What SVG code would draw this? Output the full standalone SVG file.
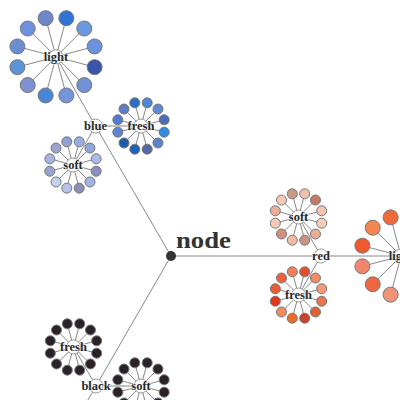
<svg xmlns="http://www.w3.org/2000/svg" width="400" height="400" viewBox="0 0 400 400">
<style>
.e{stroke:#888;stroke-width:1;fill:none}
.lf{stroke:#777;stroke-width:1}
.lg circle{r:7.5}
.sm circle{r:5}
.hub{fill:#fff;stroke:#999;stroke-width:1}
.lbl{font-family:"Liberation Serif","DejaVu Serif",serif;font-weight:bold;font-size:12.5px;fill:#2a2a2a;text-anchor:middle;stroke:#fff;stroke-width:1.5;stroke-opacity:0.6;paint-order:stroke}
.blk circle{fill:#2b2229}
</style>
<defs>
<g id="s40" class="e">
<line x1="0" y1="0" x2="-10.35" y2="-38.64"/><line x1="0" y1="0" x2="10.35" y2="-38.64"/>
<line x1="0" y1="0" x2="28.28" y2="-28.28"/><line x1="0" y1="0" x2="38.64" y2="-10.35"/>
<line x1="0" y1="0" x2="38.64" y2="10.35"/><line x1="0" y1="0" x2="28.28" y2="28.28"/>
<line x1="0" y1="0" x2="10.35" y2="38.64"/><line x1="0" y1="0" x2="-10.35" y2="38.64"/>
<line x1="0" y1="0" x2="-28.28" y2="28.28"/><line x1="0" y1="0" x2="-38.64" y2="10.35"/>
<line x1="0" y1="0" x2="-38.64" y2="-10.35"/><line x1="0" y1="0" x2="-28.28" y2="-28.28"/>
</g>
<g id="s24" class="e">
<line x1="0" y1="0" x2="-6.21" y2="-23.18"/><line x1="0" y1="0" x2="6.21" y2="-23.18"/>
<line x1="0" y1="0" x2="16.97" y2="-16.97"/><line x1="0" y1="0" x2="23.18" y2="-6.21"/>
<line x1="0" y1="0" x2="23.18" y2="6.21"/><line x1="0" y1="0" x2="16.97" y2="16.97"/>
<line x1="0" y1="0" x2="6.21" y2="23.18"/><line x1="0" y1="0" x2="-6.21" y2="23.18"/>
<line x1="0" y1="0" x2="-16.97" y2="16.97"/><line x1="0" y1="0" x2="-23.18" y2="6.21"/>
<line x1="0" y1="0" x2="-23.18" y2="-6.21"/><line x1="0" y1="0" x2="-16.97" y2="-16.97"/>
</g>
</defs>
<g id="connectors" class="e">
<line x1="171" y1="256" x2="95.5" y2="126"/>
<line x1="95.5" y1="126" x2="56" y2="56.8"/>
<line x1="171" y1="256" x2="321" y2="256"/>
<line x1="321" y1="256" x2="401" y2="256"/>
<line x1="171" y1="256" x2="96" y2="386"/>
<line x1="96" y1="386" x2="56" y2="455"/>
<line x1="95.5" y1="126" x2="141" y2="126"/>
<line x1="95.5" y1="126" x2="73" y2="165"/>
<line x1="321" y1="256" x2="298.5" y2="217"/>
<line x1="321" y1="256" x2="298.5" y2="295"/>
<line x1="96" y1="386" x2="73.5" y2="347"/>
<line x1="96" y1="386" x2="141" y2="386"/>
<use href="#s40" x="56" y="56.8"/>
<use href="#s24" x="141" y="126"/>
<use href="#s24" x="73" y="165"/>
<use href="#s24" x="298.5" y="217"/>
<use href="#s24" x="298.5" y="295"/>
<use href="#s24" x="73.5" y="347"/>
<use href="#s24" x="141" y="386"/>
<line x1="401" y1="256" x2="390.65" y2="217.36"/>
<line x1="401" y1="256" x2="372.72" y2="227.72"/>
<line x1="401" y1="256" x2="362.36" y2="245.65"/>
<line x1="401" y1="256" x2="362.36" y2="266.35"/>
<line x1="401" y1="256" x2="372.72" y2="284.28"/>
<line x1="401" y1="256" x2="390.65" y2="294.64"/>
</g>
<g id="blue-light" transform="translate(56,56.8)">
<g class="lf lg">
<circle cx="-10.35" cy="-38.64" fill="#6f86c9"/><circle cx="10.35" cy="-38.64" fill="#2f74d6"/>
<circle cx="28.28" cy="-28.28" fill="#6a9ae0"/><circle cx="38.64" cy="-10.35" fill="#6b93dd"/>
<circle cx="38.64" cy="10.35" fill="#3a55a8"/><circle cx="28.28" cy="28.28" fill="#7392d6"/>
<circle cx="10.35" cy="38.64" fill="#7496d8"/><circle cx="-10.35" cy="38.64" fill="#4a86d8"/>
<circle cx="-28.28" cy="28.28" fill="#7e91d0"/><circle cx="-38.64" cy="10.35" fill="#5f93d9"/>
<circle cx="-38.64" cy="-10.35" fill="#6c8dd0"/><circle cx="-28.28" cy="-28.28" fill="#6f90dd"/>
</g>
<circle class="hub" r="7"/><text class="lbl" y="4">light</text>
</g>
<g id="blue-fresh" transform="translate(141,126)">
<g class="lf sm">
<circle cx="-6.21" cy="-23.18" fill="#2b6fc4"/><circle cx="6.21" cy="-23.18" fill="#4d86d4"/>
<circle cx="16.97" cy="-16.97" fill="#5c8ad1"/><circle cx="23.18" cy="-6.21" fill="#4a6bb5"/>
<circle cx="23.18" cy="6.21" fill="#2f8ae0"/><circle cx="16.97" cy="16.97" fill="#5a82d0"/>
<circle cx="6.21" cy="23.18" fill="#5566a6"/><circle cx="-6.21" cy="23.18" fill="#1f63b8"/>
<circle cx="-16.97" cy="16.97" fill="#1d5aa8"/><circle cx="-23.18" cy="6.21" fill="#5b83d2"/>
<circle cx="-23.18" cy="-6.21" fill="#4f7ad8"/><circle cx="-16.97" cy="-16.97" fill="#5c7cc4"/>
</g>
<circle class="hub" r="7"/><text class="lbl" y="4">fresh</text>
</g>
<g id="blue-soft" transform="translate(73,165)">
<g class="lf sm">
<circle cx="-6.21" cy="-23.18" fill="#8ea3d3"/><circle cx="6.21" cy="-23.18" fill="#95aee0"/>
<circle cx="16.97" cy="-16.97" fill="#8fa8da"/><circle cx="23.18" cy="-6.21" fill="#aabbe8"/>
<circle cx="23.18" cy="6.21" fill="#8a8fbd"/><circle cx="16.97" cy="16.97" fill="#a0b4e6"/>
<circle cx="6.21" cy="23.18" fill="#8b8db5"/><circle cx="-6.21" cy="23.18" fill="#b4c2ea"/>
<circle cx="-16.97" cy="16.97" fill="#c2d3f0"/><circle cx="-23.18" cy="6.21" fill="#97a4d3"/>
<circle cx="-23.18" cy="-6.21" fill="#a5b4e0"/><circle cx="-16.97" cy="-16.97" fill="#9aa5cf"/>
</g>
<circle class="hub" r="7"/><text class="lbl" y="4">soft</text>
</g>
<g id="blue" transform="translate(95.5,126)">
<circle class="hub" r="7"/><text class="lbl" y="4">blue</text>
</g>
<g id="red-soft" transform="translate(298.5,217)">
<g class="lf sm">
<circle cx="-6.21" cy="-23.18" fill="#c99a88"/><circle cx="6.21" cy="-23.18" fill="#f0c2ae"/>
<circle cx="16.97" cy="-16.97" fill="#c47a66"/><circle cx="23.18" cy="-6.21" fill="#f3c4b0"/>
<circle cx="23.18" cy="6.21" fill="#f6cdb8"/><circle cx="16.97" cy="16.97" fill="#e9ad98"/>
<circle cx="6.21" cy="23.18" fill="#c79483"/><circle cx="-6.21" cy="23.18" fill="#f0bca6"/>
<circle cx="-16.97" cy="16.97" fill="#d48f7c"/><circle cx="-23.18" cy="6.21" fill="#f5cbb5"/>
<circle cx="-23.18" cy="-6.21" fill="#eab09a"/><circle cx="-16.97" cy="-16.97" fill="#f5c8b4"/>
</g>
<circle class="hub" r="7"/><text class="lbl" y="4">soft</text>
</g>
<g id="red-fresh" transform="translate(298.5,295)">
<g class="lf sm">
<circle cx="-6.21" cy="-23.18" fill="#f0805a"/><circle cx="6.21" cy="-23.18" fill="#e0502f"/>
<circle cx="16.97" cy="-16.97" fill="#f28a62"/><circle cx="23.18" cy="-6.21" fill="#f39a76"/>
<circle cx="23.18" cy="6.21" fill="#e9744e"/><circle cx="16.97" cy="16.97" fill="#e0603a"/>
<circle cx="6.21" cy="23.18" fill="#c9422a"/><circle cx="-6.21" cy="23.18" fill="#ea6a2e"/>
<circle cx="-16.97" cy="16.97" fill="#f38a64"/><circle cx="-23.18" cy="6.21" fill="#e23818"/>
<circle cx="-23.18" cy="-6.21" fill="#eb5a30"/><circle cx="-16.97" cy="-16.97" fill="#f0603a"/>
</g>
<circle class="hub" r="7"/><text class="lbl" y="4">fresh</text>
</g>
<g id="red-light" transform="translate(401,256)">
<g class="lf lg">
<circle cx="-10.35" cy="-38.64" fill="#f06a3c"/><circle cx="-28.28" cy="-28.28" fill="#f58550"/>
<circle cx="-38.64" cy="-10.35" fill="#ee5a30"/><circle cx="-38.64" cy="10.35" fill="#f0876a"/>
<circle cx="-28.28" cy="28.28" fill="#ee6640"/><circle cx="-10.35" cy="38.64" fill="#f09478"/>
</g>
<circle class="hub" r="7"/><text class="lbl" y="4">light</text>
</g>
<g id="red" transform="translate(321,256)">
<circle class="hub" r="7"/><text class="lbl" y="4">red</text>
</g>
<g id="black-fresh" transform="translate(73.5,347)">
<g class="lf sm blk">
<circle cx="-6.21" cy="-23.18"/><circle cx="6.21" cy="-23.18"/>
<circle cx="16.97" cy="-16.97"/><circle cx="23.18" cy="-6.21"/>
<circle cx="23.18" cy="6.21"/><circle cx="16.97" cy="16.97"/>
<circle cx="6.21" cy="23.18"/><circle cx="-6.21" cy="23.18"/>
<circle cx="-16.97" cy="16.97"/><circle cx="-23.18" cy="6.21"/>
<circle cx="-23.18" cy="-6.21"/><circle cx="-16.97" cy="-16.97"/>
</g>
<circle class="hub" r="7"/><text class="lbl" y="4">fresh</text>
</g>
<g id="black-soft" transform="translate(141,386)">
<g class="lf sm blk">
<circle cx="-6.21" cy="-23.18"/><circle cx="6.21" cy="-23.18"/>
<circle cx="16.97" cy="-16.97"/><circle cx="23.18" cy="-6.21"/>
<circle cx="23.18" cy="6.21"/><circle cx="16.97" cy="16.97"/>
<circle cx="6.21" cy="23.18"/><circle cx="-6.21" cy="23.18"/>
<circle cx="-16.97" cy="16.97"/><circle cx="-23.18" cy="6.21"/>
<circle cx="-23.18" cy="-6.21"/><circle cx="-16.97" cy="-16.97"/>
</g>
<circle class="hub" r="7"/><text class="lbl" y="4">soft</text>
</g>
<g id="black" transform="translate(96,386)">
<circle class="hub" r="7"/><text class="lbl" y="4">black</text>
</g>
<g id="node">
<circle cx="171" cy="256" r="5" fill="#333"/>
<text x="176" y="248" font-family="'Liberation Serif','DejaVu Serif',serif" font-weight="bold" font-size="24" fill="#333" textLength="55" lengthAdjust="spacingAndGlyphs">node</text>
</g>
</svg>
